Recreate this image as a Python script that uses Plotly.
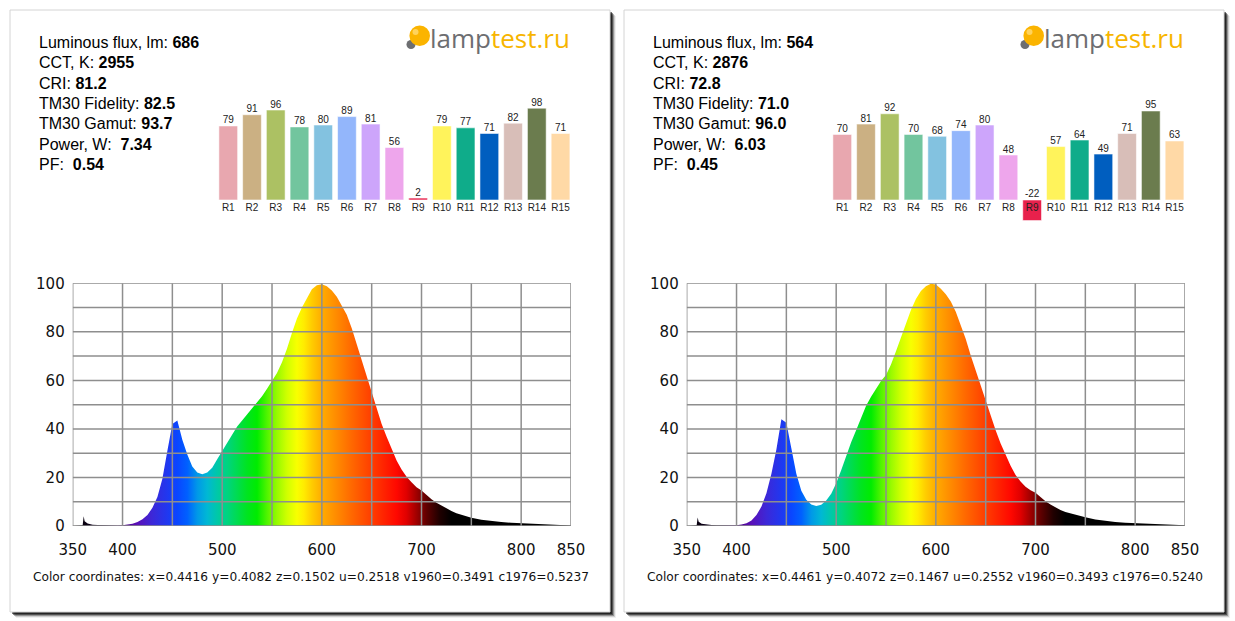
import plotly.graph_objects as go

W, H = 1235, 621

# ---------------- data ----------------
wavelengths = [
    350, 355, 360, 361, 362, 365,
    370, 375, 380, 385, 390, 395,
    400, 405, 410, 415, 420, 425, 430, 435, 440, 445,
    450, 455, 460, 465, 470, 475, 480, 485, 490, 495,
    500, 505, 510, 515, 520, 525, 530, 535, 540, 545,
    550, 555, 560, 565, 570, 575, 580, 585, 590, 595,
    600, 605, 610, 615, 620, 625, 630, 635, 640, 645,
    650, 655, 660, 665, 670, 675, 680, 685, 690, 695,
    700, 705, 710, 715, 720, 725, 730, 735, 740, 745,
    750, 760, 770, 780, 790, 800, 810, 820, 830, 840, 850,
]

spectrum_left = [
    0, 0, 0.3, 4.0, 2.0, 1.0,
    0.5, 0.4, 0.3, 0.3, 0.2, 0.2,
    0.3, 0.5, 0.9, 1.6, 2.8, 4.5, 7.5, 12.0, 19.5, 31.0,
    42.0, 43.5, 35.5, 29.5, 24.5, 22.0, 21.3, 22.0, 24.0, 27.5,
    31.0, 34.5, 38.0, 41.0, 43.5, 46.0, 48.5, 51.0, 53.5, 56.5,
    59.5, 63.0, 67.5, 73.0, 79.5, 85.5, 90.0, 94.0, 97.5, 99.2,
    99.6, 98.8, 97.0, 94.5, 91.0, 87.0, 81.5, 75.0, 68.0, 61.5,
    54.7, 48.0, 42.0, 36.8, 31.5, 27.0, 23.3, 20.3, 18.0, 16.0,
    14.6, 12.6, 11.0, 9.6, 8.4, 7.2, 6.2, 5.3, 4.6, 4.0,
    3.4, 2.6, 2.0, 1.6, 1.3, 1.1, 0.8, 0.6, 0.45, 0.3, 0.2,
]

spectrum_right = [
    0, 0, 0.3, 3.5, 1.8, 0.9,
    0.5, 0.4, 0.3, 0.3, 0.2, 0.2,
    0.3, 0.6, 1.1, 2.3, 4.5, 8.0, 13.5, 21.5, 31.5, 44.0,
    42.5, 32.0, 21.5, 14.5, 10.8, 8.9, 8.2, 8.8, 10.5, 13.3,
    17.6, 23.0, 29.0, 34.5, 39.5, 44.5, 49.5, 53.3, 56.8, 59.7,
    62.2, 66.5, 72.0, 77.5, 83.5, 89.0, 93.5, 96.8, 98.8, 99.8,
    99.5, 97.8, 95.5, 92.5, 88.3, 83.0, 77.0, 70.3, 64.0, 57.8,
    52.0, 45.8, 39.5, 34.0, 29.3, 24.8, 21.0, 18.3, 16.2, 14.7,
    13.7, 11.8, 10.2, 8.9, 7.6, 6.6, 5.8, 5.2, 4.6, 4.1,
    3.6, 2.7, 2.1, 1.6, 1.3, 1.1, 0.9, 0.7, 0.5, 0.4, 0.3,
]

cri_labels = ["R1", "R2", "R3", "R4", "R5", "R6", "R7", "R8",
              "R9", "R10", "R11", "R12", "R13", "R14", "R15"]
cri_left = [79, 91, 96, 78, 80, 89, 81, 56, 2, 79, 77, 71, 82, 98, 71]
cri_right = [70, 81, 92, 70, 68, 74, 80, 48, -22, 57, 64, 49, 71, 95, 63]

info_names = ["Luminous flux, lm: ", "CCT, K: ", "CRI: ", "TM30 Fidelity: ",
              "TM30 Gamut: ", "Power, W:\u00a0 ", "PF:\u00a0 "]
info_left = ["686", "2955", "81.2", "82.5", "93.7", "7.34", "0.54"]
info_right = ["564", "2876", "72.8", "71.0", "96.0", "6.03", "0.45"]

coords_left = "Color coordinates: x=0.4416 y=0.4082 z=0.1502 u=0.2518 v1960=0.3491 c1976=0.5237"
coords_right = "Color coordinates: x=0.4461 y=0.4072 z=0.1467 u=0.2552 v1960=0.3493 c1976=0.5240"

x_tick_vals = [350, 400, 500, 600, 700, 800, 850]
x_grid_vals = [350, 400, 450, 500, 550, 600, 650, 700, 750, 800, 850]
y_tick_vals = [0, 20, 40, 60, 80, 100]
y_grid_vals = [0, 10, 20, 30, 40, 50, 60, 70, 80, 90, 100]

# ---------------- styles ----------------
bar_colors = ["#e8a7af", "#cbb083", "#acc163", "#72c59e", "#83c2e0", "#93b6fb",
              "#cda5fb", "#eea6ec", "#e8214c", "#fff35b", "#0fac8a", "#005ebf",
              "#d8beb8", "#6b7c4e", "#ffd9a6"]

spec_stops = [(350, "#000000"), (385, "#1a0030"), (400, "#4b0082"), (415, "#5a10b8"),
              (430, "#3c28d8"), (445, "#2038f0"), (455, "#0a46ff"), (465, "#0060ff"),
              (475, "#0098e8"), (485, "#00b8d4"), (495, "#00c8a8"), (505, "#00d480"),
              (515, "#00dc50"), (525, "#00e420"), (535, "#00ec00"), (545, "#50f400"),
              (555, "#98fa00"), (565, "#d0ff00"), (575, "#f8ff00"), (582, "#ffec00"),
              (590, "#ffcc00"), (600, "#ffac00"), (615, "#ff8a00"), (630, "#ff6800"),
              (645, "#ff4800"), (660, "#ff2800"), (675, "#ff0800"), (685, "#e00000"),
              (695, "#a00000"), (705, "#600000"), (718, "#200000"), (730, "#000000"),
              (850, "#000000")]
colorscale = [[(w - 350) / 500, c] for w, c in spec_stops]

GRID = "#8e8e8e"
TEXT_FONT = "Liberation Sans, Arial, sans-serif"
AX_FONT = "DejaVu Sans, Verdana, sans-serif"


def px(x):
    return x / W


def py(y):
    return 1 - y / H


fig = go.Figure()
shapes = []
annotations = []

# panels with shadow
for x0 in (10, 624):
    x1, y0, y1 = x0 + 600, 10, 612
    for off, col in [(6, "rgba(0,0,0,0.06)"), (5, "rgba(0,0,0,0.14)"),
                     (4, "rgba(0,0,0,0.28)"), (3, "rgba(0,0,0,0.45)"),
                     (2, "rgba(0,0,0,0.55)")]:
        shapes.append(dict(type="rect", xref="paper", yref="paper",
                           x0=px(x0 + off), x1=px(x1 + off), y0=py(y1 + off), y1=py(y0 + off),
                           fillcolor=col, line=dict(width=0), layer="below"))
    shapes.append(dict(type="rect", xref="paper", yref="paper",
                       x0=px(x0), x1=px(x1), y0=py(y1), y1=py(y0),
                       fillcolor="white", line=dict(color="#d4d4d4", width=1), layer="below"))

panels = [
    (0, spectrum_left, cri_left, info_left, coords_left),
    (614, spectrum_right, cri_right, info_right, coords_right),
]

for k, (ox, spec, cri, info, coords) in enumerate(panels):
    sx = "x" if k == 0 else "x2"
    sy = "y" if k == 0 else "y2"
    bx = "x3" if k == 0 else "x4"
    by = "y3" if k == 0 else "y4"
    ax_s = "" if k == 0 else "2"
    ax_b = "3" if k == 0 else "4"

    # spectrum
    fig.add_trace(go.Scatter(
        x=wavelengths, y=spec, mode="lines", xaxis=sx, yaxis=sy,
        line=dict(width=0, color="rgba(0,0,0,0)"), fill="tozeroy",
        fillgradient=dict(type="horizontal", colorscale=colorscale, start=350, stop=850),
        hoverinfo="skip", showlegend=False))

    for xv in x_grid_vals:
        shapes.append(dict(type="line", xref=sx, yref=sy, x0=xv, x1=xv,
                           y0=y_grid_vals[0], y1=y_grid_vals[-1],
                           line=dict(color=GRID, width=1.5), layer="above"))
    for yv in y_grid_vals:
        shapes.append(dict(type="line", xref=sx, yref=sy, y0=yv, y1=yv,
                           x0=x_grid_vals[0], x1=x_grid_vals[-1],
                           line=dict(color=GRID, width=1.5), layer="above"))

    fig.layout["xaxis" + ax_s] = dict(
        domain=[px(72.7 + ox), px(571 + ox)], range=[350, 850], anchor=sy,
        tickmode="array", tickvals=x_tick_vals, showgrid=False, zeroline=False,
        showline=False, ticks="outside", ticklen=10, tickcolor="rgba(0,0,0,0)",
        tickfont=dict(family=AX_FONT, size=15, color="#111"), fixedrange=True,
        automargin=False)
    fig.layout["yaxis" + ax_s] = dict(
        domain=[py(526), py(283.3)], range=[0, 100], anchor=sx,
        tickmode="array", tickvals=y_tick_vals, showgrid=False, zeroline=False,
        showline=False, ticks="outside", ticklen=4, tickcolor="rgba(0,0,0,0)",
        tickfont=dict(family=AX_FONT, size=15, color="#111"), fixedrange=True,
        automargin=False)

    # CRI bars
    fig.add_trace(go.Bar(
        x=cri_labels, y=cri, xaxis=bx, yaxis=by, width=0.79,
        marker=dict(color=bar_colors, line=dict(color="rgba(255,255,255,0.55)", width=1)),
        hoverinfo="skip", showlegend=False))
    fig.add_trace(go.Scatter(
        x=cri_labels, y=[max(v, 0) for v in cri], text=[str(v) for v in cri],
        mode="text", textposition="top center", xaxis=bx, yaxis=by,
        textfont=dict(family=TEXT_FONT, size=10, color="#222"),
        hoverinfo="skip", showlegend=False, cliponaxis=False))
    fig.layout["xaxis" + ax_b] = dict(
        domain=[px(216.4 + ox), px(572.4 + ox)], type="category", anchor="free",
        range=[-0.5, len(cri_labels) - 0.5],
        position=py(200), showgrid=False, zeroline=False, showline=False,
        ticks="", tickfont=dict(family=TEXT_FONT, size=10, color="#222"), fixedrange=True,
        automargin=False)
    fig.layout["yaxis" + ax_b] = dict(
        domain=[py(228.1), py(101.6)], range=[-30, 105], anchor=bx, visible=False,
        fixedrange=True, automargin=False)

    # info text
    for i, (name, val) in enumerate(zip(info_names, info)):
        annotations.append(dict(
            xref="paper", yref="paper", x=px(37 + ox), y=py(42.5 + i * 20.33),
            xanchor="left", yanchor="middle", showarrow=False,
            text=name + "<b>" + val + "</b>",
            font=dict(family=TEXT_FONT, size=16, color="#000")))

    # coordinates
    annotations.append(dict(
        xref="paper", yref="paper", x=px(31 + ox), y=py(577),
        xanchor="left", yanchor="middle", showarrow=False, text=coords,
        font=dict(family=AX_FONT, size=12.2, color="#111")))

    # logo
    shapes.append(dict(type="circle", xref="paper", yref="paper",
                       x0=px(406.5 + ox), x1=px(415.5 + ox), y0=py(49), y1=py(40),
                       fillcolor="#6d6e71", line=dict(width=0), layer="above"))
    shapes.append(dict(type="circle", xref="paper", yref="paper",
                       x0=px(409.4 + ox), x1=px(430 + ox), y0=py(46.1), y1=py(25.5),
                       fillcolor="#fbb400", line=dict(width=0), layer="above"))
    shapes.append(dict(type="circle", xref="paper", yref="paper",
                       x0=px(412.5 + ox), x1=px(418.5 + ox), y0=py(35), y1=py(29),
                       fillcolor="#ffd35c", line=dict(width=0), layer="above"))
    annotations.append(dict(
        xref="paper", yref="paper", x=px(428 + ox), y=py(37.5),
        xanchor="left", yanchor="middle", showarrow=False,
        text="<span style='color:#6d6e71'>lamp</span><span style='color:#f7b500'>test.ru</span>",
        font=dict(family="Open Sans, sans-serif", size=26)))

fig.update_layout(
    width=W, height=H, margin=dict(l=0, r=0, t=0, b=0, pad=0, autoexpand=False),
    paper_bgcolor="white", plot_bgcolor="rgba(0,0,0,0)",
    showlegend=False, bargap=0.2, shapes=shapes, annotations=annotations,
)

fig.write_html("out.html", config={"displayModeBar": False},
               post_script="document.body.style.margin='0';document.body.style.overflow='hidden';")
